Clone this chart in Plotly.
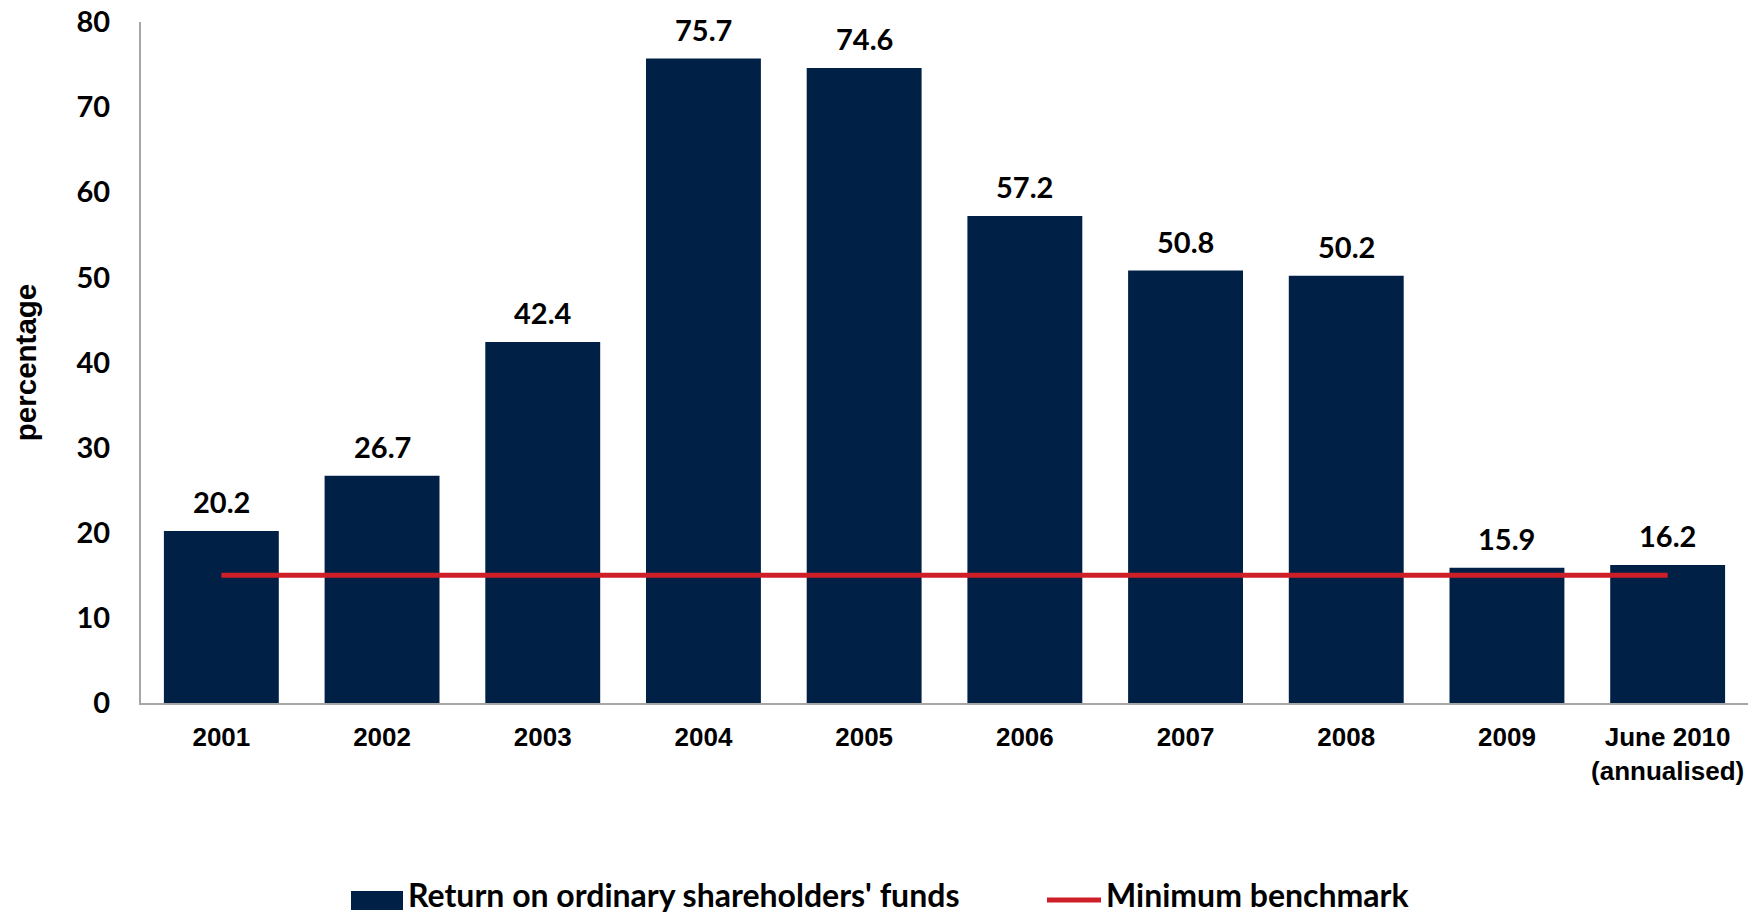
import plotly.graph_objects as go

# Return on ordinary shareholders' funds vs minimum benchmark (%)
categories = ["2001", "2002", "2003", "2004", "2005", "2006", "2007", "2008", "2009",
              "June 2010<br>(annualised)"]
returns = [20.2, 26.7, 42.4, 75.7, 74.6, 57.2, 50.8, 50.2, 15.9, 16.2]
benchmark = [15, 15, 15, 15, 15, 15, 15, 15, 15, 15]
y_ticks = [0, 10, 20, 30, 40, 50, 60, 70, 80]

NAVY = "#012046"
RED = "#CE1F28"
W, H = 1764, 917
ML, MR, MT, MB = 141, 16, 22, 214
PW, PH = W - ML - MR, H - MT - MB


def px(x):
    return (x - ML) / PW


def py(y):
    return (H - MB - y) / PH


fig = go.Figure()
fig.add_trace(go.Bar(
    x=categories, y=returns, marker=dict(color=NAVY, line=dict(width=0)),
    name="Return on ordinary shareholders' funds", showlegend=False,
))
fig.add_trace(go.Scatter(
    x=categories, y=benchmark, mode="lines",
    line=dict(color=RED, width=5),
    name="Minimum benchmark", showlegend=False,
))

# value labels above each bar (category axis positions are serial indices)
for i, v in enumerate(returns):
    fig.add_annotation(
        x=i, y=v, text=f"{v:.1f}", showarrow=False, yanchor="bottom",
        yshift=10, font=dict(family="Lato", size=29, color="#000000"),
    )

# legend drawn below the plot
fig.add_shape(type="rect", xref="paper", yref="paper",
              x0=px(351), x1=px(403), y0=py(910), y1=py(891),
              fillcolor=NAVY, line=dict(width=0))
fig.add_annotation(xref="paper", yref="paper", x=px(406), y=py(916),
                   xanchor="left", yanchor="bottom", showarrow=False,
                   text="Return on ordinary shareholders' funds",
                   font=dict(family="Lato", size=32, color="#000000"))
fig.add_shape(type="line", xref="paper", yref="paper",
              x0=px(1047), x1=px(1101), y0=py(900), y1=py(900),
              line=dict(color=RED, width=5))
fig.add_annotation(xref="paper", yref="paper", x=px(1104), y=py(916),
                   xanchor="left", yanchor="bottom", showarrow=False,
                   text="Minimum benchmark",
                   font=dict(family="Lato", size=32, color="#000000"))

fig.update_layout(
    width=W, height=H,
    margin=dict(l=ML, r=MR, t=MT, b=MB),
    paper_bgcolor="white", plot_bgcolor="white",
    bargap=0.285,
    showlegend=False,
    xaxis=dict(
        type="category", range=[-0.5, len(categories) - 0.5], automargin=False,
        showline=True, linecolor="#A6A6A6", linewidth=2,
        showgrid=False, ticks="", ticklabelstandoff=10,
        tickfont=dict(family="Liberation Sans", size=26, color="#000000", weight="bold"),
    ),
    yaxis=dict(
        range=[0, 80], tickvals=y_ticks, automargin=False,
        showline=True, linecolor="#A6A6A6", linewidth=2,
        showgrid=False, zeroline=False, ticks="", ticklabelstandoff=23,
        tickfont=dict(family="Lato", size=29, color="#000000", weight="bold"),
        title=dict(text="percentage", standoff=31,
                   font=dict(family="Liberation Sans", size=29.5, color="#000000", weight="bold")),
    ),
    font=dict(family="Lato", weight="bold"),
)

fig.update_annotations(font_weight="bold")

fig.write_html("out.html")
